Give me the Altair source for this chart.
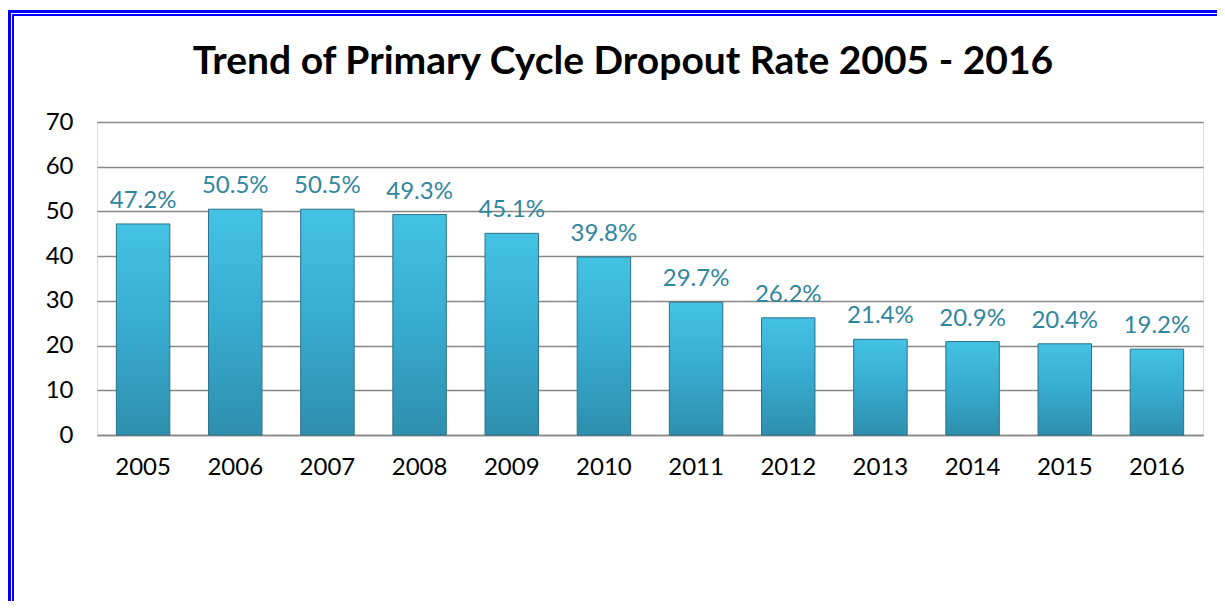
import altair as alt
import pandas as pd

years = ["2005", "2006", "2007", "2008", "2009", "2010", "2011", "2012", "2013", "2014", "2015", "2016"]
rates = [47.2, 50.5, 50.5, 49.3, 45.1, 39.8, 29.7, 26.2, 21.4, 20.9, 20.4, 19.2]
y_ticks = [0, 10, 20, 30, 40, 50, 60, 70]
title_text = "Trend of Primary Cycle Dropout Rate 2005 - 2016"

df = pd.DataFrame({"year": years, "rate": rates})

FONT = "Lato"
W, H = 1106, 313

base = alt.Chart(df).encode(
    x=alt.X("year:N", sort=years,
            scale=alt.Scale(paddingInner=0.42, paddingOuter=0.21),
            axis=alt.Axis(title=None, labelAngle=0, labelFontSize=24, labelFont=FONT,
                          labelColor="#000000", labelPadding=20, ticks=False,
                          domainColor="#878787", domainWidth=1.5)),
    y=alt.Y("rate:Q", scale=alt.Scale(domain=[0, 70]),
            axis=alt.Axis(title=None, values=y_ticks, labelFontSize=24, labelFont=FONT,
                          labelColor="#000000", labelPadding=24, ticks=False, domain=False,
                          gridColor="#878787", gridWidth=1.5)),
)

bars = base.mark_bar(
    color=alt.Gradient(
        gradient="linear", x1=0, x2=0, y1=0, y2=1,
        stops=[alt.GradientStop(color="#44c2e4", offset=0),
               alt.GradientStop(color="#37abcf", offset=0.5),
               alt.GradientStop(color="#2e8fad", offset=1)]),
    stroke="#2b7389", strokeWidth=1,
)

labels = base.transform_calculate(
    label="format(datum.rate, '.1f') + '%'"
).mark_text(baseline="bottom", dy=-11, fontSize=24, font=FONT, color="#31869e").encode(
    text="label:N"
)

deco = alt.Chart(pd.DataFrame({"t": [title_text]}))

title = deco.mark_text(fontSize=39, font=FONT, fontWeight="bold", color="#000000",
                       align="center", baseline="middle").encode(
    text="t:N", x=alt.value(526), y=alt.value(-60))

# decorative double blue frame (outside the plot area, in pixel values)
outer_v = deco.mark_rule(color="#0000ff", strokeWidth=3).encode(
    x=alt.value(-87.5), y=alt.value(-111), y2=alt.value(520))
inner_v = deco.mark_rule(color="#0000ff", strokeWidth=2).encode(
    x=alt.value(-84), y=alt.value(-107), y2=alt.value(520))
outer_h = deco.mark_rule(color="#0000ff", strokeWidth=3).encode(
    x=alt.value(-89), x2=alt.value(1200), y=alt.value(-110.5))
inner_h = deco.mark_rule(color="#0000ff", strokeWidth=2).encode(
    x=alt.value(-85), x2=alt.value(1200), y=alt.value(-107))

chart = alt.layer(bars, labels, title, outer_v, inner_v, outer_h, inner_h).properties(
    width=W, height=H,
    autosize=alt.AutoSizeParams(type="none"),
    padding={"left": 89, "top": 114, "right": 14, "bottom": 166},
).configure_view(stroke=None).configure(background="#ffffff")

chart.save("out.html", embed_options={"renderer": "svg", "actions": False})
